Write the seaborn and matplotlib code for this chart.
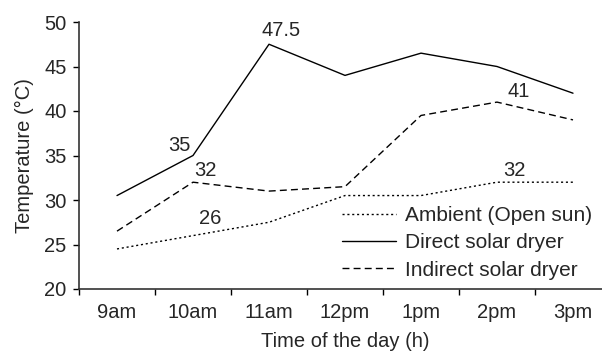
import seaborn as sns
import matplotlib.pyplot as plt
import pandas as pd

times = ['9am', '10am', '11am', '12pm', '1pm', '2pm', '3pm']
ambient = [24.5, 26, 27.5, 30.5, 30.5, 32, 32]
direct = [30.5, 35, 47.5, 44, 46.5, 45, 42]
indirect = [26.5, 32, 31, 31.5, 39.5, 41, 39]

sns.set_style('ticks')
plt.rcParams['font.family'] = ['Liberation Sans', 'DejaVu Sans']

fig = plt.figure(figsize=(6.02, 3.54), dpi=100)
ax = fig.add_axes([79 / 602, 1 - 289 / 354, (611 - 79) / 602, (289 - 22) / 354])

df = pd.DataFrame({'time': times, 'Ambient (Open sun)': ambient,
                   'Direct solar dryer': direct, 'Indirect solar dryer': indirect})
x = list(range(len(times)))

sns.lineplot(x=x, y=df['Ambient (Open sun)'], ax=ax, color='black', lw=1,
             linestyle=(0, (1.5, 2)), label='Ambient (Open sun)')
sns.lineplot(x=x, y=df['Direct solar dryer'], ax=ax, color='black', lw=1,
             label='Direct solar dryer')
sns.lineplot(x=x, y=df['Indirect solar dryer'], ax=ax, color='black', lw=1,
             linestyle=(0, (5, 3)), label='Indirect solar dryer')

fs = 14.5
# value annotations
ax.text(0.97, direct[1] + 0.1, '35', ha='right', va='bottom', fontsize=fs)
ax.text(1.02, indirect[1] + 0.3, '32', ha='left', va='bottom', fontsize=fs)
ax.text(1.08, ambient[1] + 0.9, '26', ha='left', va='bottom', fontsize=fs)
ax.text(2.16, direct[2] + 0.5, '47.5', ha='center', va='bottom', fontsize=fs)
ax.text(5.28, indirect[5] + 0.1, '41', ha='center', va='bottom', fontsize=fs)
ax.text(5.23, ambient[5] + 0.3, '32', ha='center', va='bottom', fontsize=fs)

ax.set_xlim(-0.5, 6.5)
ax.set_ylim(20, 50)
ax.set_yticks(range(20, 51, 5))
ax.set_xticks(x)
ax.set_xticklabels(times)
ax.set_xticks([i - 0.5 for i in range(8)], minor=True)
ax.tick_params(axis='x', which='major', length=0, labelsize=fs, pad=10)
ax.tick_params(axis='x', which='minor', length=4, width=1, color='black')
ax.tick_params(axis='y', length=4, width=1, color='black', labelsize=fs, pad=5)
ax.set_xlabel('Time of the day (h)', fontsize=fs, labelpad=7)
ax.set_ylabel('Temperature (°C)', fontsize=fs, labelpad=7)
for s in ['top', 'right']:
    ax.spines[s].set_visible(False)
for s in ['left', 'bottom']:
    ax.spines[s].set_color('#333333')
    ax.spines[s].set_linewidth(1.2)

ax.legend(loc='lower right', bbox_to_anchor=(1.0, -0.035), frameon=False,
          fontsize=15, handlelength=2.6, handletextpad=0.45, labelspacing=0.4)

plt.savefig('out.png', dpi=100)
